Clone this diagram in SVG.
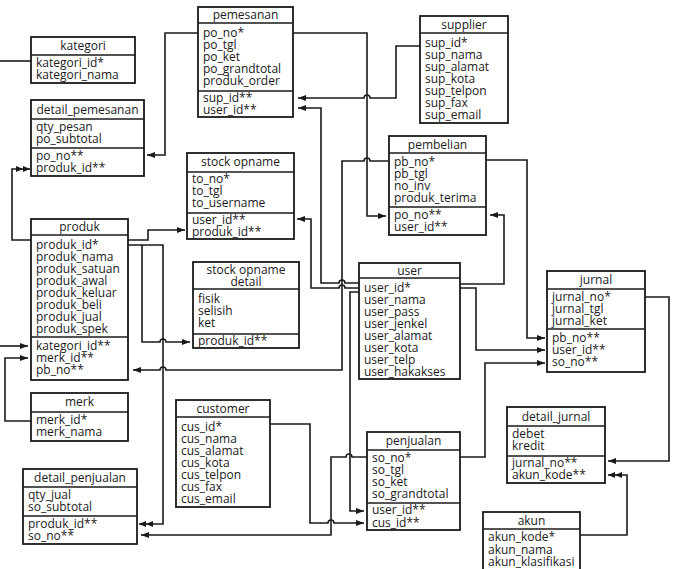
<svg xmlns="http://www.w3.org/2000/svg" width="673" height="569" viewBox="0 0 673 569">
<style>
.bx{fill:#fff;stroke:#1a1a1a;stroke-width:1.8}
.dv{stroke:#1a1a1a;stroke-width:1.6}
.t{font-family:"Open Sans","Liberation Sans",sans-serif;font-size:12px;fill:#1a1a1a}
.h{text-anchor:middle}
.c{fill:none;stroke:#1a1a1a;stroke-width:1.6}
.a{marker-end:url(#ar)}
.d{marker-end:url(#ar2)}
</style>
<defs>
<marker id="ar" markerUnits="userSpaceOnUse" markerWidth="9" markerHeight="7" refX="8" refY="3.5" orient="auto"><path d="M0,0.5 L8,3.5 L0,6.5 z" fill="#1a1a1a"/></marker>
<marker id="ar2" markerUnits="userSpaceOnUse" markerWidth="15" markerHeight="7" refX="14" refY="3.5" orient="auto"><path d="M0,0.5 L7,3.5 L0,6.5 z M7,0.5 L14,3.5 L7,6.5 z" fill="#1a1a1a"/></marker>
</defs>

<g id="connectors">
<path class="c" d="M0,61 H31"/>
<path class="c a" d="M0,346 H28"/>
<path class="c a" d="M31,421 H5 V358 H28"/>
<path class="c d" d="M31,240 H12 V169 H30"/>
<path class="c a" d="M198,33 H165 V155 H147"/>
<path class="c a" d="M293,33 H367 V216 H386"/>
<path class="c a" d="M420,46 H396 V98 H370 A3,3 0 0 0 364,98 H298"/>
<path class="c a" d="M359,283 H345 A3,3 0 0 0 339,283 H321 V108 H298"/>
<path class="c a" d="M359,288 H345 A3,3 0 0 0 339,288 H311 V219 H297"/>
<path class="c a" d="M389,161 H370 A3,3 0 0 0 364,161 H342 V370 H166 A3,3 0 0 0 160,370 H133"/>
<path class="c a" d="M460,284 H504 V215 H490"/>
<path class="c a" d="M486,160 H527 V338 H545"/>
<path class="c a" d="M460,288 H476 V350 H545"/>
<path class="c a" d="M460,457 H485 V363 H545"/>
<path class="c a" d="M645,297 H669 V461 H608"/>
<path class="c d" d="M580,535 H627 V475 H608"/>
<path class="c a" d="M359,292 H350 V511 H364"/>
<path class="c a" d="M270,424 H310 V523 H328 A3,3 0 0 1 334,523 H364"/>
<path class="c a" d="M367,457 H352 A3,3 0 0 0 346,457 H331 V535 H141"/>
<path class="c d" d="M128,245 H163 V524 H139"/>
<path class="c a" d="M128,240 H148 V230 H185"/>
<path class="c a" d="M142,245 V342 H160 A3,3 0 0 1 166,342 H190"/>
</g>

<g id="kategori">
<rect class="bx" x="31" y="37" width="104" height="46"/>
<line class="dv" x1="31" y1="55" x2="135" y2="55"/>
<text class="t h" x="83" y="50">kategori</text>
<text class="t" x="36" y="67"><tspan x="36">kategori_id*</tspan><tspan x="36" dy="12">kategori_nama</tspan></text>
</g>

<g id="detail_pemesanan">
<rect class="bx" x="31" y="100" width="113" height="76"/>
<line class="dv" x1="31" y1="119" x2="144" y2="119"/>
<line class="dv" x1="31" y1="148" x2="144" y2="148"/>
<text class="t h" x="87.5" y="113.5">detail_pemesanan</text>
<text class="t" x="36" y="131"><tspan x="36">qty_pesan</tspan><tspan x="36" dy="12">po_subtotal</tspan></text>
<text class="t" x="36" y="160"><tspan x="36">po_no**</tspan><tspan x="36" dy="12">produk_id**</tspan></text>
</g>

<g id="pemesanan">
<rect class="bx" x="198" y="7" width="95" height="110"/>
<line class="dv" x1="198" y1="23" x2="293" y2="23"/>
<line class="dv" x1="198" y1="91" x2="293" y2="91"/>
<text class="t h" x="245.5" y="19">pemesanan</text>
<text class="t" x="203" y="37"><tspan x="203">po_no*</tspan><tspan x="203" dy="12">po_tgl</tspan><tspan x="203" dy="12">po_ket</tspan><tspan x="203" dy="12">po_grandtotal</tspan><tspan x="203" dy="12">produk_order</tspan></text>
<text class="t" x="203" y="102"><tspan x="203">sup_id**</tspan><tspan x="203" dy="12">user_id**</tspan></text>
</g>

<g id="supplier">
<rect class="bx" x="420" y="16" width="88" height="107"/>
<line class="dv" x1="420" y1="33" x2="508" y2="33"/>
<text class="t h" x="464" y="29">supplier</text>
<text class="t" x="425" y="47"><tspan x="425">sup_id*</tspan><tspan x="425" dy="12">sup_nama</tspan><tspan x="425" dy="12">sup_alamat</tspan><tspan x="425" dy="12">sup_kota</tspan><tspan x="425" dy="12">sup_telpon</tspan><tspan x="425" dy="12">sup_fax</tspan><tspan x="425" dy="12">sup_email</tspan></text>
</g>

<g id="pembelian">
<rect class="bx" x="389" y="136" width="97" height="99"/>
<line class="dv" x1="389" y1="153" x2="486" y2="153"/>
<line class="dv" x1="389" y1="207" x2="486" y2="207"/>
<text class="t h" x="437.5" y="149">pembelian</text>
<text class="t" x="394" y="166"><tspan x="394">pb_no*</tspan><tspan x="394" dy="12">pb_tgl</tspan><tspan x="394" dy="12">no_inv</tspan><tspan x="394" dy="12">produk_terima</tspan></text>
<text class="t" x="394" y="219"><tspan x="394">po_no**</tspan><tspan x="394" dy="12">user_id**</tspan></text>
</g>

<g id="stock_opname">
<rect class="bx" x="187" y="153" width="107" height="86"/>
<line class="dv" x1="187" y1="172" x2="294" y2="172"/>
<line class="dv" x1="187" y1="213" x2="294" y2="213"/>
<text class="t h" x="240.5" y="166">stock opname</text>
<text class="t" x="192" y="183"><tspan x="192">to_no*</tspan><tspan x="192" dy="12">to_tgl</tspan><tspan x="192" dy="12">to_username</tspan></text>
<text class="t" x="192" y="224"><tspan x="192">user_id**</tspan><tspan x="192" dy="12">produk_id**</tspan></text>
</g>

<g id="stock_opname_detail">
<rect class="bx" x="193" y="262" width="106" height="86"/>
<line class="dv" x1="193" y1="289" x2="299" y2="289"/>
<line class="dv" x1="193" y1="334" x2="299" y2="334"/>
<text class="t h" x="246" y="274"><tspan x="246">stock opname</tspan><tspan x="246" dy="12">detail</tspan></text>
<text class="t" x="198" y="303"><tspan x="198">fisik</tspan><tspan x="198" dy="12">selisih</tspan><tspan x="198" dy="12">ket</tspan></text>
<text class="t" x="198" y="345">produk_id**</text>
</g>

<g id="produk">
<rect class="bx" x="31" y="219" width="97" height="161"/>
<line class="dv" x1="31" y1="235" x2="128" y2="235"/>
<line class="dv" x1="31" y1="337" x2="128" y2="337"/>
<text class="t h" x="79.5" y="231">produk</text>
<text class="t" x="36" y="249"><tspan x="36">produk_id*</tspan><tspan x="36" dy="12">produk_nama</tspan><tspan x="36" dy="12">produk_satuan</tspan><tspan x="36" dy="12">produk_awal</tspan><tspan x="36" dy="12">produk_keluar</tspan><tspan x="36" dy="12">produk_beli</tspan><tspan x="36" dy="12">produk_jual</tspan><tspan x="36" dy="12">produk_spek</tspan></text>
<text class="t" x="36" y="350"><tspan x="36">kategori_id**</tspan><tspan x="36" dy="12">merk_id**</tspan><tspan x="36" dy="12">pb_no**</tspan></text>
</g>

<g id="merk">
<rect class="bx" x="31" y="393" width="97" height="48"/>
<line class="dv" x1="31" y1="412" x2="128" y2="412"/>
<text class="t h" x="79.5" y="406">merk</text>
<text class="t" x="36" y="424"><tspan x="36">merk_id*</tspan><tspan x="36" dy="12">merk_nama</tspan></text>
</g>

<g id="detail_penjualan">
<rect class="bx" x="23" y="469" width="114" height="75"/>
<line class="dv" x1="23" y1="487" x2="137" y2="487"/>
<line class="dv" x1="23" y1="516" x2="137" y2="516"/>
<text class="t h" x="80" y="482">detail_penjualan</text>
<text class="t" x="28" y="499"><tspan x="28">qty_jual</tspan><tspan x="28" dy="12">so_subtotal</tspan></text>
<text class="t" x="28" y="528"><tspan x="28">produk_id**</tspan><tspan x="28" dy="12">so_no**</tspan></text>
</g>

<g id="customer">
<rect class="bx" x="176" y="400" width="94" height="107"/>
<line class="dv" x1="176" y1="417" x2="270" y2="417"/>
<text class="t h" x="223" y="412.5">customer</text>
<text class="t" x="181" y="431"><tspan x="181">cus_id*</tspan><tspan x="181" dy="12">cus_nama</tspan><tspan x="181" dy="12">cus_alamat</tspan><tspan x="181" dy="12">cus_kota</tspan><tspan x="181" dy="12">cus_telpon</tspan><tspan x="181" dy="12">cus_fax</tspan><tspan x="181" dy="12">cus_email</tspan></text>
</g>

<g id="user">
<rect class="bx" x="359" y="263" width="101" height="116"/>
<line class="dv" x1="359" y1="278" x2="460" y2="278"/>
<text class="t h" x="409.5" y="274.5">user</text>
<text class="t" x="364" y="292"><tspan x="364">user_id*</tspan><tspan x="364" dy="12">user_nama</tspan><tspan x="364" dy="12">user_pass</tspan><tspan x="364" dy="12">user_jenkel</tspan><tspan x="364" dy="12">user_alamat</tspan><tspan x="364" dy="12">user_kota</tspan><tspan x="364" dy="12">user_telp</tspan><tspan x="364" dy="12">user_hakakses</tspan></text>
</g>

<g id="penjualan">
<rect class="bx" x="367" y="432" width="93" height="98"/>
<line class="dv" x1="367" y1="450" x2="460" y2="450"/>
<line class="dv" x1="367" y1="503" x2="460" y2="503"/>
<text class="t h" x="413.5" y="445">penjualan</text>
<text class="t" x="372" y="462"><tspan x="372">so_no*</tspan><tspan x="372" dy="12">so_tgl</tspan><tspan x="372" dy="12">so_ket</tspan><tspan x="372" dy="12">so_grandtotal</tspan></text>
<text class="t" x="372" y="514"><tspan x="372">user_id**</tspan><tspan x="372" dy="13">cus_id**</tspan></text>
</g>

<g id="jurnal">
<rect class="bx" x="547" y="271" width="98" height="101"/>
<line class="dv" x1="547" y1="289" x2="645" y2="289"/>
<line class="dv" x1="547" y1="329" x2="645" y2="329"/>
<text class="t h" x="596" y="284">jurnal</text>
<text class="t" x="552" y="301"><tspan x="552">jurnal_no*</tspan><tspan x="552" dy="12">jurnal_tgl</tspan><tspan x="552" dy="12">jurnal_ket</tspan></text>
<text class="t" x="552" y="342"><tspan x="552">pb_no**</tspan><tspan x="552" dy="12">user_id**</tspan><tspan x="552" dy="12">so_no**</tspan></text>
</g>

<g id="detail_jurnal">
<rect class="bx" x="507" y="407" width="98" height="76"/>
<line class="dv" x1="507" y1="426" x2="605" y2="426"/>
<line class="dv" x1="507" y1="456" x2="605" y2="456"/>
<text class="t h" x="556" y="420.5">detail_jurnal</text>
<text class="t" x="512" y="438"><tspan x="512">debet</tspan><tspan x="512" dy="12">kredit</tspan></text>
<text class="t" x="512" y="467"><tspan x="512">jurnal_no**</tspan><tspan x="512" dy="12">akun_kode**</tspan></text>
</g>

<g id="akun">
<rect class="bx" x="483" y="512" width="97" height="64"/>
<line class="dv" x1="483" y1="529" x2="580" y2="529"/>
<text class="t h" x="531.5" y="524.5">akun</text>
<text class="t" x="488" y="541"><tspan x="488">akun_kode*</tspan><tspan x="488" dy="13">akun_nama</tspan><tspan x="488" dy="12">akun_klasifikasi</tspan></text>
</g>
</svg>
